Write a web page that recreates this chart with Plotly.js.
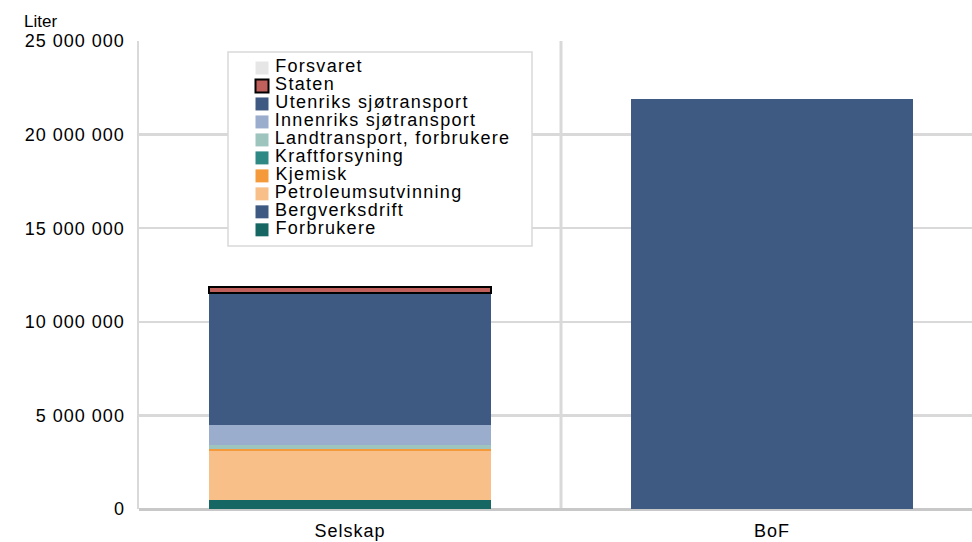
<!DOCTYPE html>
<html>
<head>
<meta charset="utf-8">
<script src="https://cdn.plot.ly/plotly-3.0.1.min.js"></script>
<style>
html,body{margin:0;padding:0;background:#fff;}
#chart{width:972px;height:542px;}
#chart .ytick text, #chart .xtick text {letter-spacing: 1px;}
#chart .annotation text {letter-spacing: 1.3px;}
#chart .annotation[data-index="0"] text {letter-spacing: 0px;}
</style>
</head>
<body>
<div id="chart"></div>
<script>
// ---- data ----
const categories = ['Selskap', 'BoF'];
const forbrukere      = [470000, 0];
const bergverksdrift  = [10000, 0];
const petroleum       = [2630000, 0];
const kjemisk         = [90000, 0];
const kraftforsyning  = [10000, 0];
const landtransport   = [220000, 0];
const innenriks       = [1050000, 0];
const utenriks        = [7070000, 0];
const staten          = [320000, 0];
const forsvaret       = [10000, 0];
const bof             = [0, 21900000];
const yTickVals = [0, 5000000, 10000000, 15000000, 20000000, 25000000];

// stacking order bottom -> top
const series = [
  {name: 'Forbrukere', y: forbrukere, color: '#166764'},
  {name: 'Bergverksdrift', y: bergverksdrift, color: '#3F5A82'},
  {name: 'Petroleumsutvinning', y: petroleum, color: '#F8C088'},
  {name: 'Kjemisk', y: kjemisk, color: '#F59A3A'},
  {name: 'Kraftforsyning', y: kraftforsyning, color: '#2E8884'},
  {name: 'Landtransport, forbrukere', y: landtransport, color: '#9EC4BE'},
  {name: 'Innenriks sjøtransport', y: innenriks, color: '#9BADCD'},
  {name: 'Utenriks sjøtransport', y: utenriks, color: '#3F5A82'},
  {name: 'Staten', y: staten, color: '#C0605C', line: '#000000'},
  {name: 'Forsvaret', y: forsvaret, color: '#E6E6E6'}
];

const traces = series.map(s => ({
  type: 'bar', x: categories, y: s.y, name: s.name,
  marker: {color: s.color, line: {color: s.line || s.color, width: s.line ? 2 : 0}},
  width: 0.668, showlegend: false, hoverinfo: 'name+y'
}));
traces.push({type: 'bar', x: categories, y: bof, name: 'BoF', marker: {color: '#3F5A82'}, width: 0.668, showlegend: false});

// plot area geometry (pixels)
const L = 139, T = 41, W = 972 - 139, H = 468;
const px = v => (v - L) / W;
const py = v => (T + H - v) / H;
const LS = 1.3; // legend letter spacing (px), compensated below

const shapes = [
  {type: 'line', xref: 'x', yref: 'paper', x0: 0.5, x1: 0.5, y0: 0, y1: 1, line: {color: '#D9D9D9', width: 3}, layer: 'below'},
  {type: 'rect', xref: 'paper', yref: 'paper', x0: px(228), x1: px(532), y0: py(52), y1: py(246), fillcolor: '#FFFFFF', line: {color: '#D9D9D9', width: 1.5}}
];
const annotations = [
  {xref: 'paper', yref: 'paper', x: px(23), y: py(22), xanchor: 'left', yanchor: 'middle', text: 'Liter', showarrow: false, borderpad: 0, font: {size: 17, color: '#000'}}
];
// custom legend, top row = top of stack
const legendItems = series.slice().reverse();
legendItems.forEach((s, i) => {
  const cy = 68 + i * 17.98;
  shapes.push({type: 'rect', xref: 'paper', yref: 'paper', x0: px(255.5), x1: px(268.5), y0: py(cy - 6.5), y1: py(cy + 6.5),
    fillcolor: s.color, line: {color: s.line || s.color, width: s.line ? 2 : 0}});
  annotations.push({xref: 'paper', yref: 'paper', x: px(274 + LS * s.name.length / 2), y: py(cy - 2), xanchor: 'left', yanchor: 'middle',
    text: s.name, showarrow: false, borderpad: 0, font: {size: 18, color: '#000'}});
});

const layout = {
  width: 972, height: 542,
  margin: {l: L, r: 0, t: T, b: 542 - T - H},
  paper_bgcolor: '#FFFFFF', plot_bgcolor: '#FFFFFF',
  barmode: 'stack', bargap: 0,
  separators: ', ',
  font: {family: 'Liberation Sans, Arial, sans-serif', color: '#000'},
  showlegend: false,
  xaxis: {range: [-0.5, 1.474], showgrid: false, zeroline: false, showline: false,
    ticks: '', tickfont: {size: 18}, ticklabelstandoff: 9, fixedrange: true},
  yaxis: {range: [0, 25000000], tickvals: yTickVals, tickformat: ',d', showgrid: true, gridcolor: '#D9D9D9', gridwidth: 2.5,
    zeroline: true, zerolinecolor: '#C8C8C8', zerolinewidth: 3,
    showline: true, linecolor: '#D9D9D9', linewidth: 2.5,
    ticks: '', tickfont: {size: 18}, ticklabelstandoff: 8, fixedrange: true},
  shapes: shapes, annotations: annotations
};

Plotly.newPlot('chart', traces, layout, {displayModeBar: false, staticPlot: true});
</script>
</body>
</html>
